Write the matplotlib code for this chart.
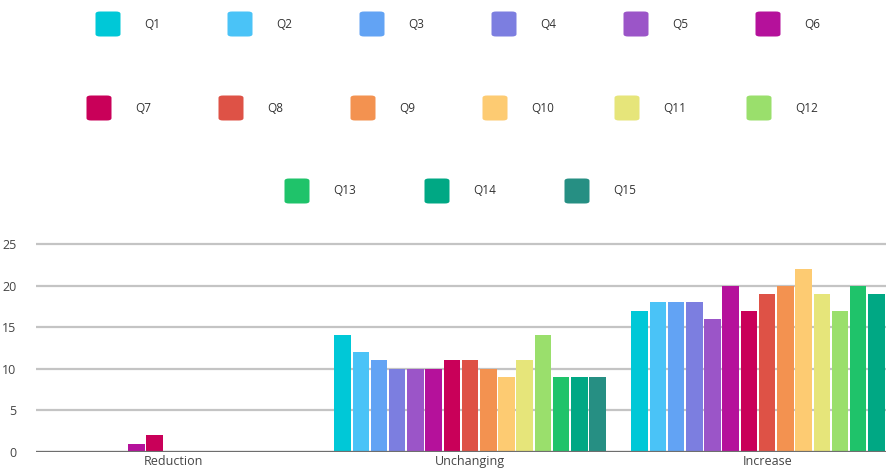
import numpy as np
import matplotlib.pyplot as plt
from matplotlib.patches import FancyBboxPatch

plt.rcParams['font.family'] = ['Open Sans', 'DejaVu Sans']

categories = ["Reduction", "Unchanging", "Increase"]
series = ["Q1", "Q2", "Q3", "Q4", "Q5", "Q6", "Q7", "Q8",
          "Q9", "Q10", "Q11", "Q12", "Q13", "Q14", "Q15"]
colors = ["#00C8D7", "#4AC3F7", "#62A3F4", "#7C7EE0", "#9B55C8",
          "#B5119B", "#C90059", "#DE5246", "#F39250", "#FDCB72",
          "#E6E57A", "#9ADF6C", "#1FC36A", "#00A884", "#268F83"]
reduction = [0, 0, 0, 0, 0, 1, 2, 0, 0, 0, 0, 0, 0, 0, 0]
unchanging = [14, 12, 11, 10, 10, 10, 11, 11, 10, 9, 11, 14, 9, 9, 9]
increase = [17, 18, 18, 18, 16, 20, 17, 19, 20, 22, 19, 17, 20, 19, 19]
yticks = [0, 5, 10, 15, 20, 25]

W, H = 886, 472
fig = plt.figure(figsize=(W / 100, H / 100), dpi=100)
ax = fig.add_axes([36 / W, 20 / H, (W - 36) / W, 211 / H])

values = np.array([reduction, unchanging, increase])
x = np.arange(len(categories))
step = 0.0613
bw = 0.0556
for i, name in enumerate(series):
    ax.bar(x + (i - 7) * step, values[:, i], width=bw, color=colors[i],
           label=name, zorder=3)

ax.set_xlim(-0.461, 2.40)
ax.set_ylim(0, 25.35)
ax.set_yticks(yticks)
ax.set_xticks(x)
ax.set_xticklabels(categories)
ax.yaxis.grid(True, color="#c4c4c4", linewidth=1.6, zorder=0)
ax.axhline(0, color="#6e6e6e", linewidth=1.6, zorder=4)
for s in ax.spines.values():
    s.set_visible(False)
ax.tick_params(axis="both", length=0, labelsize=9, colors="#444444")
ax.tick_params(axis="y", pad=14)
ax.tick_params(axis="x", pad=2)

# legend, drawn as three centred rows
rows = [(series[0:6], 24, 132, 108), (series[6:12], 108, 132, 99),
        (series[12:15], 191, 140, 297)]
k = 0
for names, yc, gap, x0 in rows:
    for j, name in enumerate(names):
        mx = x0 + j * gap
        box = FancyBboxPatch(((mx - 12.5) / W, 1 - (yc + 12.5) / H), 25 / W, 25 / H,
                             boxstyle="round,pad=0,rounding_size=0.005",
                             transform=fig.transFigure, facecolor=colors[k],
                             edgecolor="none")
        fig.patches.append(box)
        fig.text((mx + 36) / W, 1 - yc / H, name, ha="left", va="center",
                 fontsize=8.5, color="#333333")
        k += 1

fig.savefig("out.png", dpi=100)
